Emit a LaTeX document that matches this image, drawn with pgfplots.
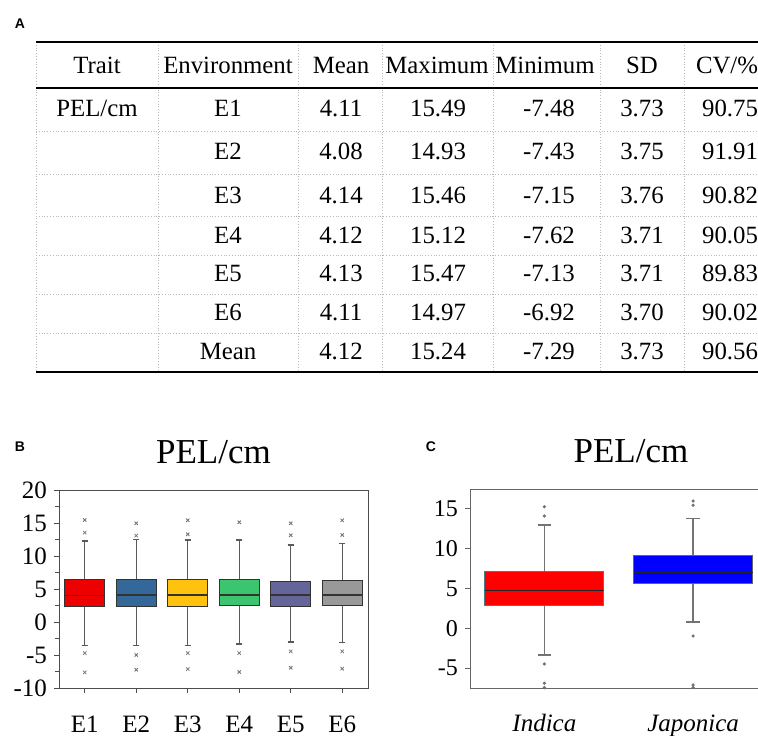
\documentclass[border=0pt]{standalone}
\usepackage{fontspec}
\setmainfont{Liberation Serif}
\setsansfont{Liberation Sans}
\usepackage{pgfplots}
\pgfplotsset{compat=1.18}
\usepgfplotslibrary{statistics}

\definecolor{cE1}{RGB}{238,0,0}
\definecolor{cE2}{RGB}{51,104,153}
\definecolor{cE3}{RGB}{255,194,14}
\definecolor{cE4}{RGB}{60,196,110}
\definecolor{cE5}{RGB}{101,101,153}
\definecolor{cE6}{RGB}{153,153,153}
\definecolor{boxedge}{RGB}{51,51,51}
\definecolor{gridc}{RGB}{185,185,185}
\definecolor{indred}{RGB}{255,0,0}
\definecolor{japblue}{RGB}{0,0,255}

\newcommand{\tabfont}{\fontsize{12.4}{14}\selectfont}
\newcommand{\panelfont}{\fontsize{7}{8}\selectfont\sffamily\bfseries}

\begin{document}
\begin{tikzpicture}
\useasboundingbox (0,0) rectangle (379pt,-367.5pt);

% ---- panel A: table (coordinates in pixels of the reference)
\begin{scope}[x=0.5pt,y=-0.5pt]
  \node[font=\panelfont] at (20,24) {A};
  \foreach \yy in {131,174,216,255,294,333}
    \draw[gridc, densely dotted, line width=0.4pt] (36,\yy) -- (760,\yy);
  \foreach \xx in {36,158,298,382,493,600,684}
    \draw[gridc, densely dotted, line width=0.4pt] (\xx,42) -- (\xx,372);
  \draw[line width=1.1pt] (36,42) -- (760,42);
  \draw[line width=1.1pt] (36,88) -- (760,88);
  \draw[line width=1.1pt] (36,372) -- (760,372);
  \begin{scope}[every node/.style={anchor=base, font=\tabfont, inner sep=0pt}]
    \node at (97,73.3) {Trait};
    \node at (228,73.3) {Environment};
    \node at (341,73.3) {Mean};
    \node at (437,73.3) {Maximum};
    \node at (545,73.3) {Minimum};
    \node at (642,73.3) {SD};
    \node at (727,73.3) {CV/\%};
    \node at (97,116.7) {PEL/cm};
    \foreach \yy/\e/\m/\mx/\mn/\sd/\cv in {
        116.7/E1/4.11/15.49/-7.48/3.73/90.75,
        159.3/E2/4.08/14.93/-7.43/3.75/91.91,
        203.3/E3/4.14/15.46/-7.15/3.76/90.82,
        243.3/E4/4.12/15.12/-7.62/3.71/90.05,
        281.7/E5/4.13/15.47/-7.13/3.71/89.83,
        320/E6/4.11/14.97/-6.92/3.70/90.02,
        359/Mean/4.12/15.24/-7.29/3.73/90.56}{
      \node at (228,\yy) {\e};
      \node at (341,\yy) {\m};
      \node at (438,\yy) {\mx};
      \node at (549,\yy) {\mn};
      \node at (642,\yy) {\sd};
      \node at (730,\yy) {\cv};
    }
  \end{scope}
  \node[font=\panelfont] at (20,447) {B};
  \node[font=\panelfont] at (431,447) {C};
\end{scope}

% ---- panel B
\begin{axis}[
  at={(29.5pt,-344pt)}, anchor=south west,
  scale only axis, width=154.5pt, height=99pt,
  xmin=0.5, xmax=6.5, ymin=-10, ymax=20,
  xtick={1,2,3,4,5,6},
  xticklabels={E1,E2,E3,E4,E5,E6},
  ytick={-10,-5,0,5,10,15,20},
  minor y tick num=1,
  tick align=outside, tick pos=left,
  major tick length=2.5pt, minor tick length=2pt,
  axis line style={draw=black!70},
  every tick/.style={draw=black!70, line width=0.5pt},
  /pgf/number format/assume math mode=true,
  yticklabel style={font=\fontsize{12.5}{14}\selectfont},
  xticklabel style={font=\fontsize{12.5}{14}\selectfont, text height=9pt, text depth=3pt, yshift=-7pt},
  title={PEL/cm},
  title style={at={(0.5,1)}, anchor=base, yshift=7.5pt, font=\fontsize{17.5}{20}\selectfont},
  boxplot/draw direction=y,
  boxplot/box extend=0.78,
  boxplot/whisker extend=0.12,
  boxplot/every whisker/.style={draw=black!65, line width=0.6pt},
  boxplot/every median/.style={draw=black!80, line width=0.7pt},
]
\addplot[boxplot prepared={draw position=1, lower whisker=-3.55, lower quartile=2.30,
  median=4.02, upper quartile=6.39, upper whisker=12.29},
  draw=boxedge, fill=cE1, line width=0.5pt, mark=x, mark size=1.2pt,
  mark options={draw=black!55, line width=0.4pt}]
  table[row sep=\\, y index=0] {y\\ 15.46\\ 13.55\\ -4.71\\ -7.63\\};
\addplot[boxplot prepared={draw position=2, lower whisker=-3.60, lower quartile=2.35,
  median=4.12, upper quartile=6.49, upper whisker=12.54},
  draw=boxedge, fill=cE2, line width=0.5pt, mark=x, mark size=1.2pt,
  mark options={draw=black!55, line width=0.4pt}]
  table[row sep=\\, y index=0] {y\\ 14.96\\ 13.09\\ -5.00\\ -7.23\\};
\addplot[boxplot prepared={draw position=3, lower whisker=-3.55, lower quartile=2.35,
  median=4.12, upper quartile=6.49, upper whisker=12.44},
  draw=boxedge, fill=cE3, line width=0.5pt, mark=x, mark size=1.2pt,
  mark options={draw=black!55, line width=0.4pt}]
  table[row sep=\\, y index=0] {y\\ 15.41\\ 13.29\\ -4.71\\ -7.13\\};
\addplot[boxplot prepared={draw position=4, lower whisker=-3.34, lower quartile=2.50,
  median=4.07, upper quartile=6.49, upper whisker=12.44},
  draw=boxedge, fill=cE4, line width=0.5pt, mark=x, mark size=1.2pt,
  mark options={draw=black!55, line width=0.4pt}]
  table[row sep=\\, y index=0] {y\\ 15.11\\ -4.71\\ -7.58\\};
\addplot[boxplot prepared={draw position=5, lower whisker=-3.04, lower quartile=2.35,
  median=4.07, upper quartile=6.13, upper whisker=11.68},
  draw=boxedge, fill=cE5, line width=0.5pt, mark=x, mark size=1.2pt,
  mark options={draw=black!55, line width=0.4pt}]
  table[row sep=\\, y index=0] {y\\ 14.96\\ 13.14\\ -4.45\\ -6.92\\};
\addplot[boxplot prepared={draw position=6, lower whisker=-3.09, lower quartile=2.50,
  median=4.07, upper quartile=6.29, upper whisker=11.93},
  draw=boxedge, fill=cE6, line width=0.5pt, mark=x, mark size=1.2pt,
  mark options={draw=black!55, line width=0.4pt}]
  table[row sep=\\, y index=0] {y\\ 15.41\\ 13.19\\ -4.45\\ -7.07\\};
\end{axis}

% ---- panel C
\begin{axis}[
  at={(235pt,-344pt)}, anchor=south west,
  scale only axis, width=148.75pt, height=99.5pt,
  xmin=0.5, xmax=2.5, ymin=-7.5, ymax=17.5,
  xtick={1,2},
  xticklabels={Indica,Japonica},
  ytick={-5,0,5,10,15},
  tick align=outside, tick pos=left,
  major tick length=2.5pt,
  axis line style={draw=black!60},
  every tick/.style={draw=black!60, line width=0.5pt},
  xtick style={draw=none},
  /pgf/number format/assume math mode=true,
  yticklabel style={font=\fontsize{12}{14}\selectfont},
  xticklabel style={font=\fontsize{12.5}{14}\selectfont\itshape, text height=9pt, text depth=3pt, yshift=-6.5pt},
  title={PEL/cm},
  title style={at={(0.541,1)}, anchor=base, yshift=7.5pt, font=\fontsize{17.5}{20}\selectfont},
  boxplot/draw direction=y,
  boxplot/box extend=0.8,
  boxplot/whisker extend=0.09,
  boxplot/every whisker/.style={draw=black!55, line width=0.7pt},
  boxplot/every median/.style={draw=black!85, line width=0.7pt},
]
\addplot[boxplot prepared={draw position=1, lower whisker=-3.35, lower quartile=2.84,
  median=4.72, upper quartile=7.11, upper whisker=12.98},
  draw=teal!50!gray, fill=indred, line width=0.4pt, mark=*, mark size=0.6pt,
  mark options={draw=black!55, fill=black!55}]
  table[row sep=\\, y index=0] {y\\ 15.28\\ 14.11\\ -4.48\\ -6.90\\ -7.45\\};
\addplot[boxplot prepared={draw position=2, lower whisker=0.79, lower quartile=5.70,
  median=7.03, upper quartile=9.12, upper whisker=13.77},
  draw=black!60, fill=japblue, line width=0.4pt, mark=*, mark size=0.6pt,
  mark options={draw=black!55, fill=black!55}]
  table[row sep=\\, y index=0] {y\\ 15.99\\ 15.45\\ -0.96\\ -7.12\\ -7.45\\};
\end{axis}
\end{tikzpicture}
\end{document}
